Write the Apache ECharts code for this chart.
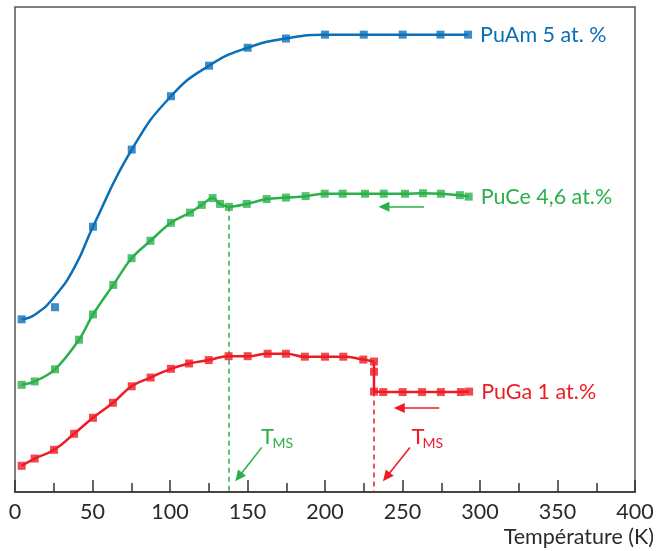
<!DOCTYPE html>
<html>
<head>
<meta charset="utf-8">
<script src="https://cdn.jsdelivr.net/npm/echarts@6/dist/echarts.min.js"></script>
<style>html,body{margin:0;padding:0;background:#fff}#c{width:668px;height:551px}</style>
</head>
<body>
<div id="c"></div>
<script>
// ---- Data (temperature in K, signal in arbitrary units 0-100) ----
const xTicks = [0, 50, 100, 150, 200, 250, 300, 350, 400];

// PuAm 5 at.% measured points
const amT = [4.3, 25.8, 50.3, 75.3, 100.6, 125.2, 150.1, 174.8, 200, 225, 250.1, 274.5, 292.3];
const amY = [35.6, 38.1, 54.7, 70.6, 81.6, 87.9, 91.6, 93.5, 94.3, 94.3, 94.3, 94.3, 94.3];
// PuAm fitted curve
const amFitT = [4.3, 13, 25.8, 38.7, 50.3, 75.3, 100.6, 125.2, 150.1, 174.8, 200, 225, 250.1, 274.5, 292.3];
const amFitY = [35.6, 36.6, 40.4, 46.5, 54.7, 70.6, 81.6, 87.9, 91.6, 93.5, 94.3, 94.3, 94.3, 94.3, 94.3];

// PuCe 4,6 at.% measured points (curve goes through them)
const ceT = [4.3, 12.7, 25.8, 41.3, 50.3, 63.4, 75.2, 87.4, 100.6, 112.9, 120.5, 127.5, 132.3, 138, 149.5, 162.4, 174.8, 187.5, 199.8, 211.4, 225.8, 237.9, 251.6, 263.2, 274.8, 287, 292.7];
const ceY = [22.1, 22.8, 25.3, 31.4, 36.6, 42.7, 48.2, 51.8, 55.5, 57.6, 59.2, 60.6, 59.4, 58.8, 59.4, 60.4, 60.7, 61.0, 61.5, 61.5, 61.5, 61.5, 61.5, 61.6, 61.5, 61.2, 60.9];

// PuGa 1 at.% measured points
const gaT = [4.3, 12.7, 25.2, 38.1, 50.3, 63.2, 75.3, 87.5, 100.6, 112.3, 125, 137.8, 150.1, 163, 174.8, 187, 200, 211.8, 224.7, 231.6, 231.6, 231.6, 237.6, 250.1, 262.6, 274.8, 287.7, 293];
const gaY = [5.4, 6.9, 8.7, 12.0, 15.3, 18.4, 21.8, 23.6, 25.4, 26.5, 27.2, 28.0, 28.0, 28.5, 28.5, 27.9, 27.9, 27.9, 27.3, 26.9, 24.8, 20.7, 20.6, 20.6, 20.6, 20.6, 20.6, 20.7];
const gaSplit = 19; // index of the last point before the martensitic drop

// Transition temperatures T_MS
const tmsCe = 138;
const tmsGa = 231.4;

// Annotation arrows [x1, y1, x2, y2] in data units
const arrowCeH = [263.9, 58.8, 238, 58.8];
const arrowGaH = [273.7, 17.3, 247.9, 17.3];
const arrowCeD = [159.2, 9.2, 144.3, 3.1];
const arrowGaD = [254.8, 9.2, 239.6, 3.1];

// ---- Build ----
const zip = (a, b) => a.map((v, i) => [v, b[i]]);
const BLUE = '#0b6fb8', GREEN = '#2bb04a', RED = '#ed1c24';
const FONT = 'Lato';
const FS = 21.5;

function arrow(a, color) {
  return [{ coord: [a[0], a[1]], symbol: 'none' }, { coord: [a[2], a[3]], symbol: 'triangle', lineStyle: { color: color, width: 1.6, type: 'solid' } }];
}
function vline(x, y, color) {
  return [{ coord: [x, y], symbol: 'none', lineStyle: { color: color, width: 1.5, type: [5, 4] } }, { coord: [x, 0], symbol: 'none' }];
}

const markerSeries = (data, color) => ({
  type: 'scatter', data: data, symbol: 'rect', symbolSize: 8,
  itemStyle: { color: color }, z: 5, silent: true
});
const curveSeries = (data, color, extra) => Object.assign({
  type: 'line', data: data, showSymbol: false, symbol: 'none', smooth: 0.35,
  lineStyle: { color: color, width: 2.5 }, z: 3, silent: true
}, extra || {});

const endLab = (text, color) => ({
  show: true, formatter: text, color: color, fontSize: FS, fontFamily: FONT, distance: 12
});

const chart = echarts.init(document.getElementById('c'), null, { renderer: 'canvas' });
chart.setOption({
  animation: false,
  grid: { left: 15, right: 33, top: 7, bottom: 59, show: true, borderColor: '#555', borderWidth: 1.5 },
  xAxis: {
    type: 'value', min: xTicks[0], max: xTicks[xTicks.length - 1], interval: 50,
    axisLine: { show: true, lineStyle: { color: '#333', width: 1.5 } },
    axisTick: { show: true, inside: true, length: 12, lineStyle: { color: '#333', width: 1.5 } },
    minorTick: { show: true, splitNumber: 2, length: 9, lineStyle: { color: '#333', width: 1.5 } },
    splitLine: { show: false },
    axisLabel: { fontSize: FS, color: '#2a2a2a', fontFamily: FONT, margin: 9 }
  },
  yAxis: {
    type: 'value', min: 0, max: 100,
    axisLine: { show: false }, axisTick: { show: false }, axisLabel: { show: false }, splitLine: { show: false }
  },
  series: [
    curveSeries(zip(amFitT, amFitY), BLUE, { smooth: 0.5, endLabel: endLab('PuAm 5 at. %', BLUE) }),
    markerSeries(zip(amT, amY), BLUE),
    curveSeries(zip(ceT, ceY), GREEN, {
      endLabel: endLab('PuCe 4,6 at.%', GREEN),
      markLine: { silent: true, symbolSize: [10, 11], label: { show: false },
        lineStyle: { color: GREEN, width: 1.6, type: 'solid' },
        data: [vline(tmsCe, ceY[ceT.indexOf(tmsCe)], GREEN), arrow(arrowCeH, GREEN), arrow(arrowCeD, GREEN)] }
    }),
    markerSeries(zip(ceT, ceY), GREEN),
    curveSeries(zip(gaT.slice(0, gaSplit + 1), gaY.slice(0, gaSplit + 1)), RED, { smooth: 0.5 }),
    curveSeries(zip(gaT.slice(gaSplit), gaY.slice(gaSplit)), RED, {
      smooth: false,
      endLabel: endLab('PuGa 1 at.%', RED),
      markLine: { silent: true, symbolSize: [10, 11], label: { show: false },
        lineStyle: { color: RED, width: 1.6, type: 'solid' },
        data: [vline(tmsGa, gaY[21], RED), arrow(arrowGaH, RED), arrow(arrowGaD, RED)] }
    }),
    markerSeries(zip(gaT, gaY), RED)
  ],
  graphic: [
    { type: 'text', right: 14, top: 526, style: { text: 'Température (K)', fontSize: FS, fontFamily: FONT, fill: '#2a2a2a' } },
    { type: 'text', x: 261, y: 447.5, style: { text: 'T', fontSize: 22, fontFamily: FONT, fill: GREEN, verticalAlign: 'bottom' } },
    { type: 'text', x: 272.5, y: 450, style: { text: 'MS', fontSize: 14, fontFamily: FONT, fill: GREEN, verticalAlign: 'bottom' } },
    { type: 'text', x: 411.5, y: 447.5, style: { text: 'T', fontSize: 22, fontFamily: FONT, fill: RED, verticalAlign: 'bottom' } },
    { type: 'text', x: 422.5, y: 450, style: { text: 'MS', fontSize: 14, fontFamily: FONT, fill: RED, verticalAlign: 'bottom' } }
  ]
});
</script>
</body>
</html>
